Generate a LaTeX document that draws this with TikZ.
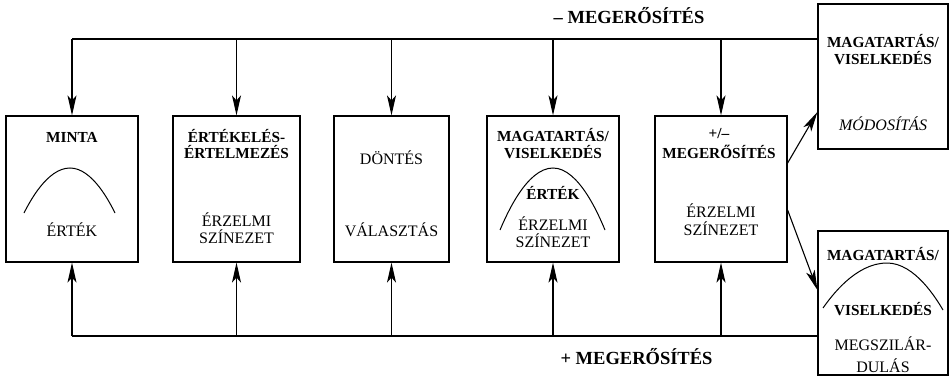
\documentclass[tikz,border=0pt]{standalone}
\usepackage{fontspec}
\setmainfont{Liberation Serif}
\usetikzlibrary{arrows.meta}
\begin{document}
\begin{tikzpicture}[x=1pt,y=-1pt,
  box/.style={draw,line width=1.2pt,rectangle,inner sep=0pt,minimum height=146pt},
  conn/.style={line width=1.1pt},
  arr/.style={conn,-{Stealth[length=20pt,width=9pt,inset=5pt]}},
  bt/.style={anchor=base,inner sep=0pt,font=\fontsize{15.3}{17}\selectfont\bfseries},
  rt/.style={anchor=base,inner sep=0pt,font=\fontsize{16}{18}\selectfont},
  it/.style={anchor=base,inner sep=0pt,font=\fontsize{16}{18}\selectfont\itshape},
  big/.style={anchor=base,inner sep=0pt,font=\fontsize{18.5}{20}\selectfont\bfseries},
  curve/.style={line width=1pt}]
\useasboundingbox (0,0) rectangle (949,377);
% boxes
\node[box,minimum width=132pt] (b1) at (72,189) {};
\node[box,minimum width=127pt] (b2) at (236.5,189) {};
\node[box,minimum width=115pt] (b3) at (391.5,189) {};
\node[box,minimum width=132pt] (b4) at (553,189) {};
\node[box,minimum width=132pt] (b5) at (721,189) {};
\node[box,minimum width=130pt,minimum height=145pt] (b6) at (883,76.5) {};
\node[box,minimum width=130pt,minimum height=144pt] (b7) at (883,303) {};
% top feedback line
\coordinate (tl) at (72,39);
\draw[conn] (tl) -- (tl -| b6.west);
\foreach \b in {b1,b2,b3,b4,b5} \draw[arr] (\b.north |- tl) -- (\b.north);
% bottom feedback line
\coordinate (bl) at (72,336);
\draw[conn] (bl) -- (bl -| b7.west);
\foreach \b in {b1,b2,b3,b4,b5} \draw[arr] (\b.south |- bl) -- (\b.south);
% diagonal arrows
\draw[arr] ([yshift=26pt]b5.east) -- ([yshift=-35.5pt]b6.west);
\draw[arr] ([yshift=-21pt]b5.east) -- ([yshift=13pt]b7.west);
% labels of feedback lines
\node[big] (lminus) at (629,24) {– MEGERŐSÍTÉS};
\node[big] (lplus) at (636.5,364) {+ MEGERŐSÍTÉS};
% box 1
\node[bt] (t1a) at (72,142) {MINTA};
\draw[curve] (24,213) parabola bend (70,168) (115,213);
\node[rt] (t1b) at (72,236) {ÉRTÉK};
% box 2
\node[bt] (t2a) at (236.5,142) {ÉRTÉKELÉS-};
\node[bt] (t2b) at (236.5,158) {ÉRTELMEZÉS};
\node[rt] (t2c) at (236.5,226) {ÉRZELMI};
\node[rt] (t2d) at (236.5,243) {SZÍNEZET};
% box 3
\node[rt] (t3a) at (391.5,164) {DÖNTÉS};
\node[rt] (t3b) at (391.5,236) {VÁLASZTÁS};
% box 4
\node[bt] (t4a) at (553,141) {MAGATARTÁS/};
\node[bt] (t4b) at (553,158) {VISELKEDÉS};
\draw[curve] (500,230) parabola bend (553,168) (605,230);
\node[bt] (t4c) at (553,199) {ÉRTÉK};
\node[rt] (t4d) at (553,230) {ÉRZELMI};
\node[rt] (t4e) at (553,247) {SZÍNEZET};
% box 5
\node[bt] (t5a) at (719,139) {+/–};
\node[bt] (t5b) at (719,158) {MEGERŐSÍTÉS};
\node[rt] (t5c) at (721,217) {ÉRZELMI};
\node[rt] (t5d) at (721,235) {SZÍNEZET};
% box 6
\node[bt] (t6a) at (883,48) {MAGATARTÁS/};
\node[bt] (t6b) at (883,65) {VISELKEDÉS};
\node[it] (t6c) at (883,130) {MÓDOSÍTÁS};
% box 7
\node[bt] (t7a) at (883,260) {MAGATARTÁS/};
\draw[curve] (823,308) parabola bend (887,263) (943,310);
\node[bt] (t7b) at (883,315) {VISELKEDÉS};
\node[rt] (t7c) at (883,350) {MEGSZILÁR-};
\node[rt] (t7d) at (883,372) {DULÁS};
\end{tikzpicture}
\end{document}
